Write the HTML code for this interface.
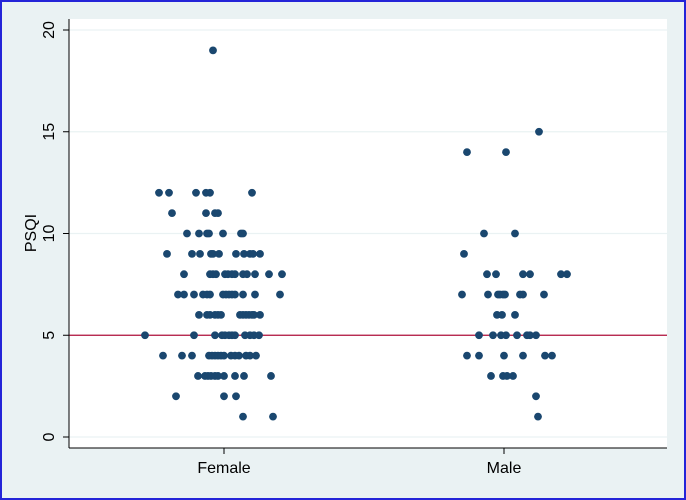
<!DOCTYPE html>
<html><head><meta charset="utf-8"><style>
body{margin:0;background:#eaf2f3}
svg{display:block;font-family:"Liberation Sans",sans-serif}
</style></head><body>
<svg width="686" height="500">
<rect x="1" y="1" width="684" height="498" fill="#eaf2f3" stroke="#2424d8" stroke-width="2"/>
<rect x="69" y="19" width="598" height="429" fill="#fff"/>
<g id="grid"></g><g id="pts"></g><g id="axes"></g>
</svg>
<script>
const yTicks=[0,5,10,15,20];
const categories=["Female","Male"];
const refValue=5;
const femaleY=[19,12,12,12,12,12,12,11,11,11,11,10,10,10,10,10,10,10,9,9,9,9,9,9,9,9,9,9,9,8,8,8,8,8,8,8,8,8,8,8,8,8,7,7,7,7,7,7,7,7,7,7,7,7,7,7,6,6,6,6,6,6,6,6,6,6,6,6,6,5,5,5,5,5,5,5,5,5,5,5,5,4,4,4,4,4,4,4,4,4,4,4,4,4,4,4,3,3,3,3,3,3,3,3,3,3,2,2,2,1,1];
const femaleX=[213,159,169,196,206,210,252,172,206,215,218,187,199,207,209,223,241,243,167,192,200,211,213,219,236,244,250,253,260,184,210,213,216,225,228,232,235,243,247,255,269,282,178,184,194,203,207,210,223,226,229,232,235,243,255,280,199,207,210,215,218,221,240,243,246,249,252,254,260,145,194,215,222,225,229,232,235,245,250,254,259,163,182,192,209,212,215,218,221,224,231,235,239,246,250,256,198,205,208,211,215,218,224,235,244,271,176,224,236,243,273];
const maleY=[15,14,14,10,10,9,8,8,8,8,8,8,7,7,7,7,7,7,7,7,7,6,6,6,5,5,5,5,5,5,5,5,4,4,4,4,4,4,3,3,3,3,2,1];
const maleX=[539,467,506,484,515,464,487,496,523,530,561,567,462,488,498,500,503,505,520,523,544,497,502,515,479,493,501,506,517,527,530,536,467,479,504,523,545,552,491,503,507,513,536,538];
const catX=[224,504];
const y=v=>437-v*(407/20);
const NS="http://www.w3.org/2000/svg";
function mk(t,a,p){const e=document.createElementNS(NS,t);for(const k in a)e.setAttribute(k,a[k]);p.appendChild(e);return e;}
const grid=document.getElementById('grid'),pts=document.getElementById('pts'),axes=document.getElementById('axes');
yTicks.forEach(v=>{
 const g=mk('line',{x1:69,x2:667,y1:y(v),y2:y(v),stroke:'#eaf2f3','stroke-width':1.2},grid);
 
 
 mk('line',{x1:63,x2:69,y1:y(v),y2:y(v),stroke:'#000'},axes);
 const t=mk('text',{x:0,y:0,'font-size':16,'text-anchor':'middle',transform:`translate(54,${y(v)}) rotate(-90)`},axes);
 t.textContent=v;
 
 
});
const r=mk('line',{x1:69,x2:667,y1:y(refValue),y2:y(refValue),stroke:'#b0103a','stroke-width':1.3},grid);


function plot(xs,ys,name){xs.forEach((xv,i)=>{
 const c=mk('circle',{cx:xv,cy:y(ys[i]),r:3.9,fill:'#1a476f'},pts);
 
 
});}
plot(femaleX,femaleY,'female');plot(maleX,maleY,'male');
mk('line',{x1:69,x2:69,y1:19,y2:448,stroke:'#000'},axes);
mk('line',{x1:69,x2:667,y1:448,y2:448,stroke:'#000'},axes);
categories.forEach((c,i)=>{
 mk('line',{x1:catX[i],x2:catX[i],y1:448,y2:454,stroke:'#000'},axes);
 const t=mk('text',{x:catX[i],y:473,'font-size':16,'text-anchor':'middle'},axes);
 t.textContent=c;
 
 
});
const yt=mk('text',{x:0,y:0,'font-size':16,'text-anchor':'middle',transform:'translate(36,233) rotate(-90)'},axes);
yt.textContent='PSQI';


</script>
</body></html>
